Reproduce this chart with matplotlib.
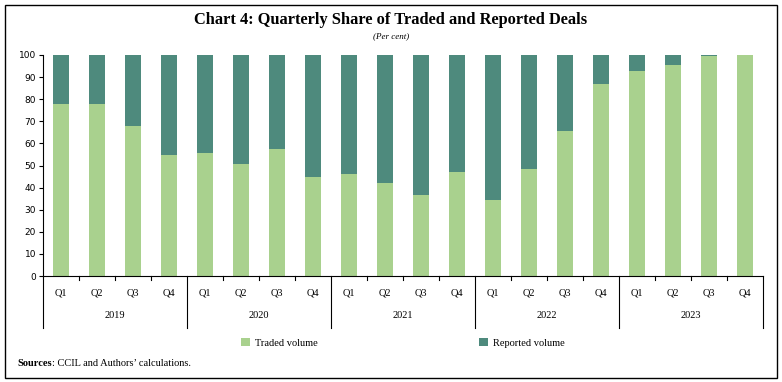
import numpy as np
import matplotlib.pyplot as plt
from matplotlib.patches import Rectangle
import matplotlib.transforms as mtransforms

# data
years = ['2019', '2020', '2021', '2022', '2023']
quarters = ['Q1', 'Q2', 'Q3', 'Q4']
traded = [78.0, 78.0, 68.0, 54.8,
          55.6, 50.6, 57.5, 45.0,
          46.2, 42.2, 36.5, 47.0,
          34.4, 48.6, 65.5, 86.8,
          92.9, 95.5, 99.5, 100.0]
reported = [100 - t for t in traded]

light = '#A9D18E'
dark = '#4E8A7D'
serif = 'Liberation Serif'

fig = plt.figure(figsize=(7.82, 3.82), dpi=100)
ax = fig.add_axes([43 / 782, 1 - 276 / 382, 720 / 782, 221 / 382])

x = np.arange(len(traded))
ax.bar(x, traded, width=0.42, color=light, label='Traded volume')
ax.bar(x, reported, width=0.42, bottom=traded, color=dark, label='Reported volume')

ax.set_xlim(-0.5, len(traded) - 0.5)
ax.set_ylim(0, 100)
ax.set_yticks(range(0, 101, 10))
ax.tick_params(axis='y', labelsize=6.5, length=3, width=0.8, pad=2)
for lab in ax.get_yticklabels():
    lab.set_family('DejaVu Sans')
ax.set_xticks([])
for s in ['top', 'right']:
    ax.spines[s].set_visible(False)
ax.spines['left'].set_linewidth(0.8)
ax.spines['bottom'].set_linewidth(0.8)

# two-level category axis
trans = mtransforms.blended_transform_factory(ax.transData, fig.transFigure)
def fy(py):
    return 1 - py / 382

for i in range(len(traded)):
    ax.text(i, fy(293), quarters[i % 4], transform=trans, ha='center', va='center',
            fontsize=7.5, family=serif)
    if i % 4 != 0:
        ax.plot([i - 0.5, i - 0.5], [fy(276), fy(280)], transform=trans,
                color='black', lw=0.8, clip_on=False)
for k, yr in enumerate(years):
    ax.text(4 * k + 1.5, fy(316), yr, transform=trans, ha='center', va='center',
            fontsize=7.5, family=serif)
for k in range(len(years) + 1):
    ax.plot([4 * k - 0.5, 4 * k - 0.5], [fy(276), fy(328)], transform=trans,
            color='black', lw=0.8, clip_on=False)

fig.text(0.5, fy(20), 'Chart 4: Quarterly Share of Traded and Reported Deals',
         ha='center', va='center', fontsize=11.8, fontweight='bold', family=serif)
fig.text(0.5, fy(36), '(Per cent)', ha='center', va='center', fontsize=6.5,
         style='italic', family=serif)

leg = fig.legend(loc='center', bbox_to_anchor=(403 / 782, fy(343)), ncol=2, frameon=False,
                 prop={'family': serif, 'size': 7.5}, handlelength=0.8,
                 handleheight=0.8, columnspacing=15.5, handletextpad=0.5)

src = fig.text(17 / 782, fy(364), 'Sources', ha='left', va='center', fontsize=7.5,
               fontweight='bold', family=serif)
ax.annotate(': CCIL and Authors’ calculations.', xy=(1, 0.5), xycoords=src,
            ha='left', va='center', fontsize=7.5, family=serif)

fig.patches.append(Rectangle((5 / 782, 4 / 382), 772 / 782, 373 / 382,
                             transform=fig.transFigure, fill=False,
                             edgecolor='black', lw=1.0))

fig.savefig('out.png', dpi=100)
